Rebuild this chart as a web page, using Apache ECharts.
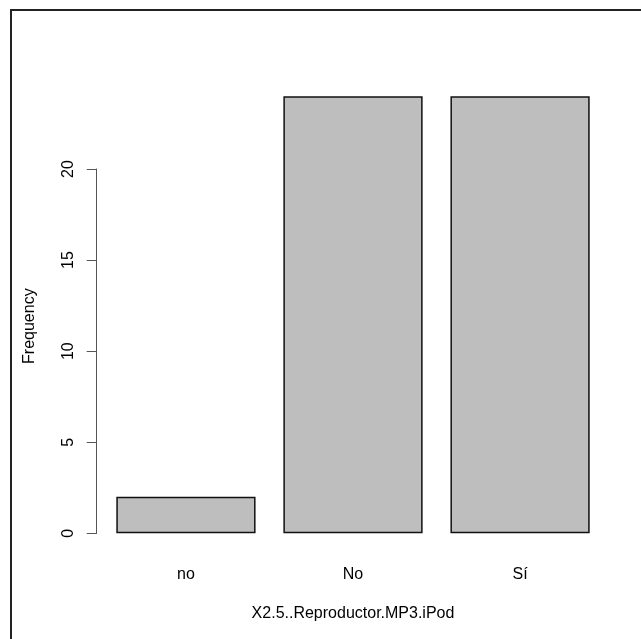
<!DOCTYPE html>
<html>
<head>
<meta charset="utf-8">
<script src="https://cdn.jsdelivr.net/npm/echarts@6/dist/echarts.min.js"></script>
<style>
html,body{margin:0;padding:0;background:#fff;}
#chart{width:641px;height:639px;}
</style>
</head>
<body>
<div id="chart"></div>
<script>
var categories = ['no', 'No', 'Sí'];
var counts = [2, 24, 24];
var xTitle = 'X2.5..Reproductor.MP3.iPod';
var yTitle = 'Frequency';

var FONT = '"Liberation Sans", Arial, sans-serif';
var chart = echarts.init(document.getElementById('chart'), null, {renderer: 'canvas'});
chart.setOption({
  animation: false,
  backgroundColor: '#ffffff',
  graphic: [{
    type: 'rect',
    shape: {x: 11, y: 10, width: 800, height: 800},
    style: {fill: 'none', stroke: '#222', lineWidth: 2},
    silent: true
  }],
  grid: {left: 102.4, top: 169, width: 501.2, height: 364.3},
  xAxis: {
    type: 'category',
    data: categories,
    axisLine: {show: false},
    axisTick: {show: false},
    axisLabel: {fontFamily: FONT, fontSize: 16, color: '#000', margin: 33},
    name: xTitle,
    nameLocation: 'middle',
    nameGap: 72,
    nameTextStyle: {fontFamily: FONT, fontSize: 16, color: '#000'}
  },
  yAxis: {
    type: 'value',
    min: 0,
    max: 20,
    interval: 5,
    offset: 5.7,
    splitLine: {show: false},
    axisLine: {show: true, lineStyle: {color: '#555', width: 1}},
    axisTick: {show: true, length: 10, lineStyle: {color: '#555', width: 1}},
    axisLabel: {fontFamily: FONT, fontSize: 16, color: '#000', rotate: 90, margin: 20},
    name: yTitle,
    nameLocation: 'middle',
    nameRotate: 90,
    nameGap: 59,
    nameTextStyle: {fontFamily: FONT, fontSize: 16, color: '#000', padding: [0, 0, 0, 50]}
  },
  series: [{
    type: 'bar',
    data: counts,
    clip: false,
    barCategoryGap: '16.65%',
    itemStyle: {color: '#BEBEBE', borderColor: '#111', borderWidth: 1.5}
  }]
});
</script>
</body>
</html>
